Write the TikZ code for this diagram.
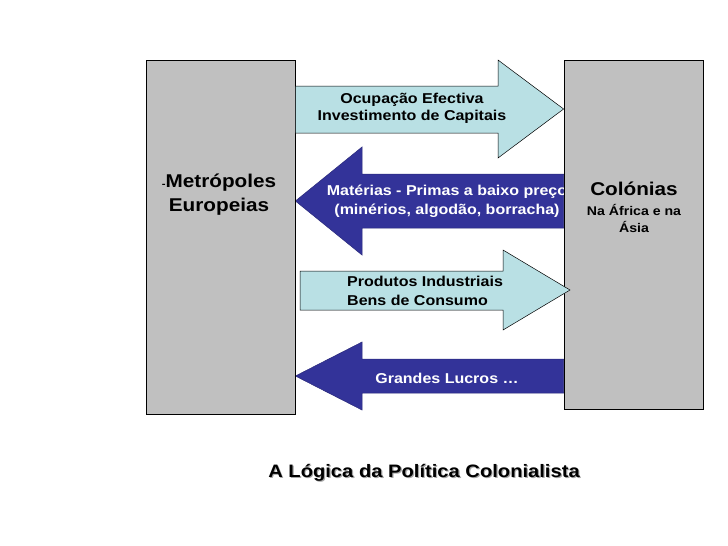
\documentclass[tikz,border=0pt]{standalone}
\usepackage{fontspec}
\setmainfont{Liberation Sans}[FakeStretch=1.12]
\usepackage{xcolor}
\usetikzlibrary{positioning,calc,backgrounds}
\definecolor{boxgray}{HTML}{C0C0C0}
\definecolor{paleblue}{HTML}{B9E0E4}
\definecolor{deepblue}{HTML}{333399}

\begin{document}
\begin{tikzpicture}[
        x=1pt, y=-1pt,
        panel/.style={
            draw=black,
            fill=boxgray,
            line width=0.8pt,
            inner sep=0pt
        },
        lightarrow/.style={
            fill=paleblue,
            draw=black,
            line width=0.5pt
        },
        darkarrow/.style={
            fill=deepblue,
            draw=deepblue!80!black,
            line width=0.5pt
        },
        arrowtext/.style={
            font=\bfseries\fontsize{14.3}{19}\selectfont,
            inner sep=0pt
        }
    ]
        \useasboundingbox (0,0) rectangle (728,546);

        % Boxes
        \node[panel, minimum width=149pt, minimum height=354pt] (metro) at (220.5,237) {};
        \node[panel, minimum width=139pt, minimum height=349pt] (colon) at (633.5,234.5) {};

        % Box labels
        \node[font=\bfseries\fontsize{18.5}{24}\selectfont, align=center] (metrolbl) at (219,194.5)
            {{\fontsize{10}{10}\selectfont-}Metrópoles\\Europeias};
        \node[font=\bfseries\fontsize{18.5}{22}\selectfont, anchor=base] (colonlbl) at (634,195.7) {Colónias};
        \node[font=\bfseries\fontsize{12.6}{17}\selectfont, align=center, inner sep=0pt] (colonsub) at (634,218.5)
            {Na África e na\\Ásia};

        % Arrows towards the metropoles (under the colonies box)
        \begin{scope}[on background layer]
            \draw[darkarrow] (colon.west |- 0,174) -- (362,174) -- (362,147) -- (metro.east |- 0,201)
                -- (362,255) -- (362,228) -- (colon.west |- 0,228) -- cycle;
            \draw[darkarrow] (colon.west |- 0,359) -- (362,359) -- (362,342) -- (metro.east |- 0,376)
                -- (362,410) -- (362,393) -- (colon.west |- 0,393) -- cycle;
            \node[arrowtext, align=center, text=white] (mat) at (447,201)
                {Matérias - Primas a baixo preço\\(minérios, algodão, borracha)};
            \node[arrowtext, text=white, anchor=base] (lucro) at (447,383) {Grandes Lucros …};
        \end{scope}

        % Arrows towards the colonies
        \draw[lightarrow] (metro.east |- 0,86) -- (498,86) -- (498,60) -- (colon.west |- 0,109)
            -- (498,158) -- (498,133) -- (metro.east |- 0,133) -- cycle;
        \draw[lightarrow] (300,271) -- (503,271) -- (503,250) -- (570,290)
            -- (503,330) -- (503,310) -- (300,310) -- cycle;
        \node[arrowtext, align=center, font=\bfseries\fontsize{14.3}{17.5}\selectfont] (occ) at (412,108.5)
            {Ocupação Efectiva\\Investimento de Capitais};
        \node[arrowtext, align=left, anchor=west] (prod) at (347,291)
            {Produtos Industriais\\Bens de Consumo};

        % Title with shadow
        \node[font=\bfseries\fontsize{18}{20}\selectfont, text=black!35, anchor=base] (titleshade) at (425.2,478.7)
            {A Lógica da Política Colonialista};
        \node[font=\bfseries\fontsize{18}{20}\selectfont, anchor=base] (title) at (424,477.5)
            {A Lógica da Política Colonialista};
    \end{tikzpicture}
\end{document}
